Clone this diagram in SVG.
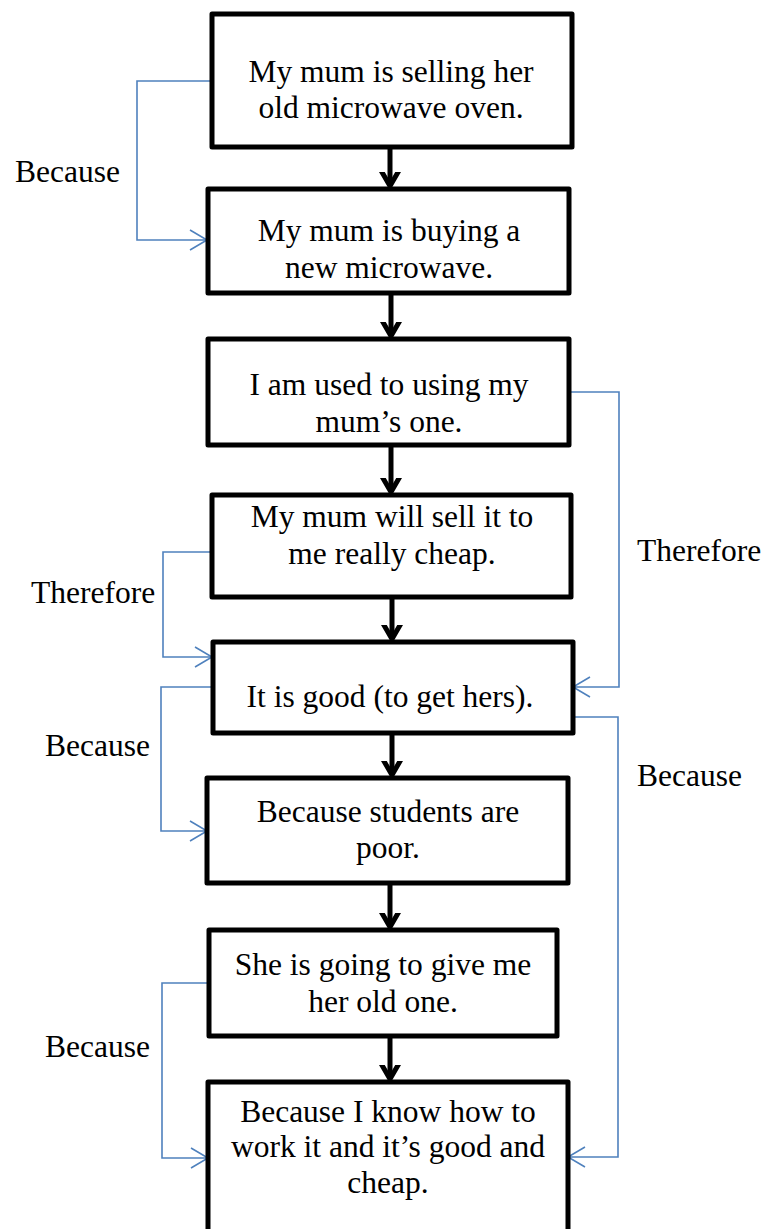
<svg xmlns="http://www.w3.org/2000/svg" width="763" height="1229" viewBox="0 0 763 1229">
  <style>
    .box { fill: #ffffff; stroke: #000000; stroke-width: 5; stroke-linejoin: round; }
    .txt { font-family: "Liberation Serif", "Times New Roman", serif; font-size: 31.5px; fill: #000000; text-anchor: middle; }
    .lbl { font-family: "Liberation Serif", "Times New Roman", serif; font-size: 31.5px; fill: #000000; }
    .flow { stroke: #000000; stroke-width: 5; fill: none; }
    .link { stroke: #4f81bd; stroke-width: 1.6; fill: none; }
  </style>
  <defs>
    <!-- heavy chevron head for the main sequence -->
    <marker id="chev" markerUnits="userSpaceOnUse" viewBox="-14 -14 28 28" refX="0" refY="0" markerWidth="28" markerHeight="28" orient="auto">
      <polyline points="-19,-11 0,0 -19,11" fill="none" stroke="#000000" stroke-width="5" stroke-linejoin="miter"/>
    </marker>
    <!-- thin open head for the reasoning links -->
    <marker id="open" markerUnits="userSpaceOnUse" viewBox="-20 -12 22 24" refX="0" refY="0" markerWidth="22" markerHeight="24" orient="auto">
      <polyline points="-17,-10 0,0 -17,10" fill="none" stroke="#4f81bd" stroke-width="1.6"/>
    </marker>
  </defs>

  <!-- vertical sequence arrows between boxes -->
  <g id="sequence-arrows">
    <line class="flow" x1="390" y1="148" x2="390" y2="186" marker-end="url(#chev)"/>
    <line class="flow" x1="391" y1="294" x2="391" y2="336" marker-end="url(#chev)"/>
    <line class="flow" x1="391" y1="446" x2="391" y2="492" marker-end="url(#chev)"/>
    <line class="flow" x1="392" y1="598" x2="392" y2="639" marker-end="url(#chev)"/>
    <line class="flow" x1="392" y1="734" x2="392" y2="775" marker-end="url(#chev)"/>
    <line class="flow" x1="390" y1="884" x2="390" y2="927" marker-end="url(#chev)"/>
    <line class="flow" x1="390" y1="1037" x2="390" y2="1079" marker-end="url(#chev)"/>
  </g>

  <!-- labelled reasoning links -->
  <g id="reason-links">
    <polyline class="link" points="212,81 137,81 137,240 207,240" marker-end="url(#open)"/>
    <polyline class="link" points="569,392 619,392 619,687 573,687" marker-end="url(#open)"/>
    <polyline class="link" points="212,552 163,552 163,657 212,657" marker-end="url(#open)"/>
    <polyline class="link" points="213,687 161,687 161,831 207,831" marker-end="url(#open)"/>
    <polyline class="link" points="573,717 618,717 618,1157 568,1157" marker-end="url(#open)"/>
    <polyline class="link" points="209,983 162,983 162,1158 208,1158" marker-end="url(#open)"/>
  </g>

  <g id="link-labels">
    <text class="lbl" x="15" y="182">Because</text>
    <text class="lbl" x="637" y="561">Therefore</text>
    <text class="lbl" x="31" y="603">Therefore</text>
    <text class="lbl" x="45" y="756">Because</text>
    <text class="lbl" x="637" y="786">Because</text>
    <text class="lbl" x="45" y="1057">Because</text>
  </g>

  <g id="node-selling">
    <rect class="box" x="212" y="14" width="360" height="133"/>
    <text class="txt" x="391" y="82">My mum is selling her</text>
    <text class="txt" x="391" y="118">old microwave oven.</text>
  </g>

  <g id="node-buying">
    <rect class="box" x="208" y="189" width="361" height="104"/>
    <text class="txt" x="389" y="241">My mum is buying a</text>
    <text class="txt" x="389" y="278">new microwave.</text>
  </g>

  <g id="node-used-to">
    <rect class="box" x="208" y="339" width="361" height="106"/>
    <text class="txt" x="389" y="395">I am used to using my</text>
    <text class="txt" x="389" y="432">mum’s one.</text>
  </g>

  <g id="node-cheap">
    <rect class="box" x="212" y="495" width="359" height="102"/>
    <text class="txt" x="392" y="527">My mum will sell it to</text>
    <text class="txt" x="392" y="564">me really cheap.</text>
  </g>

  <g id="node-good">
    <rect class="box" x="213" y="642" width="360" height="91"/>
    <text class="txt" x="390" y="707">It is good (to get hers).</text>
  </g>

  <g id="node-students">
    <rect class="box" x="207" y="778" width="361" height="105"/>
    <text class="txt" x="388" y="822">Because students are</text>
    <text class="txt" x="388" y="858">poor.</text>
  </g>

  <g id="node-give">
    <rect class="box" x="209" y="930" width="348" height="106"/>
    <text class="txt" x="383" y="975">She is going to give me</text>
    <text class="txt" x="383" y="1012">her old one.</text>
  </g>

  <g id="node-know-how">
    <rect class="box" x="208" y="1082" width="360" height="170"/>
    <text class="txt" x="388" y="1122">Because I know how to</text>
    <text class="txt" x="388" y="1157">work it and it’s good and</text>
    <text class="txt" x="388" y="1193">cheap.</text>
  </g>
</svg>
